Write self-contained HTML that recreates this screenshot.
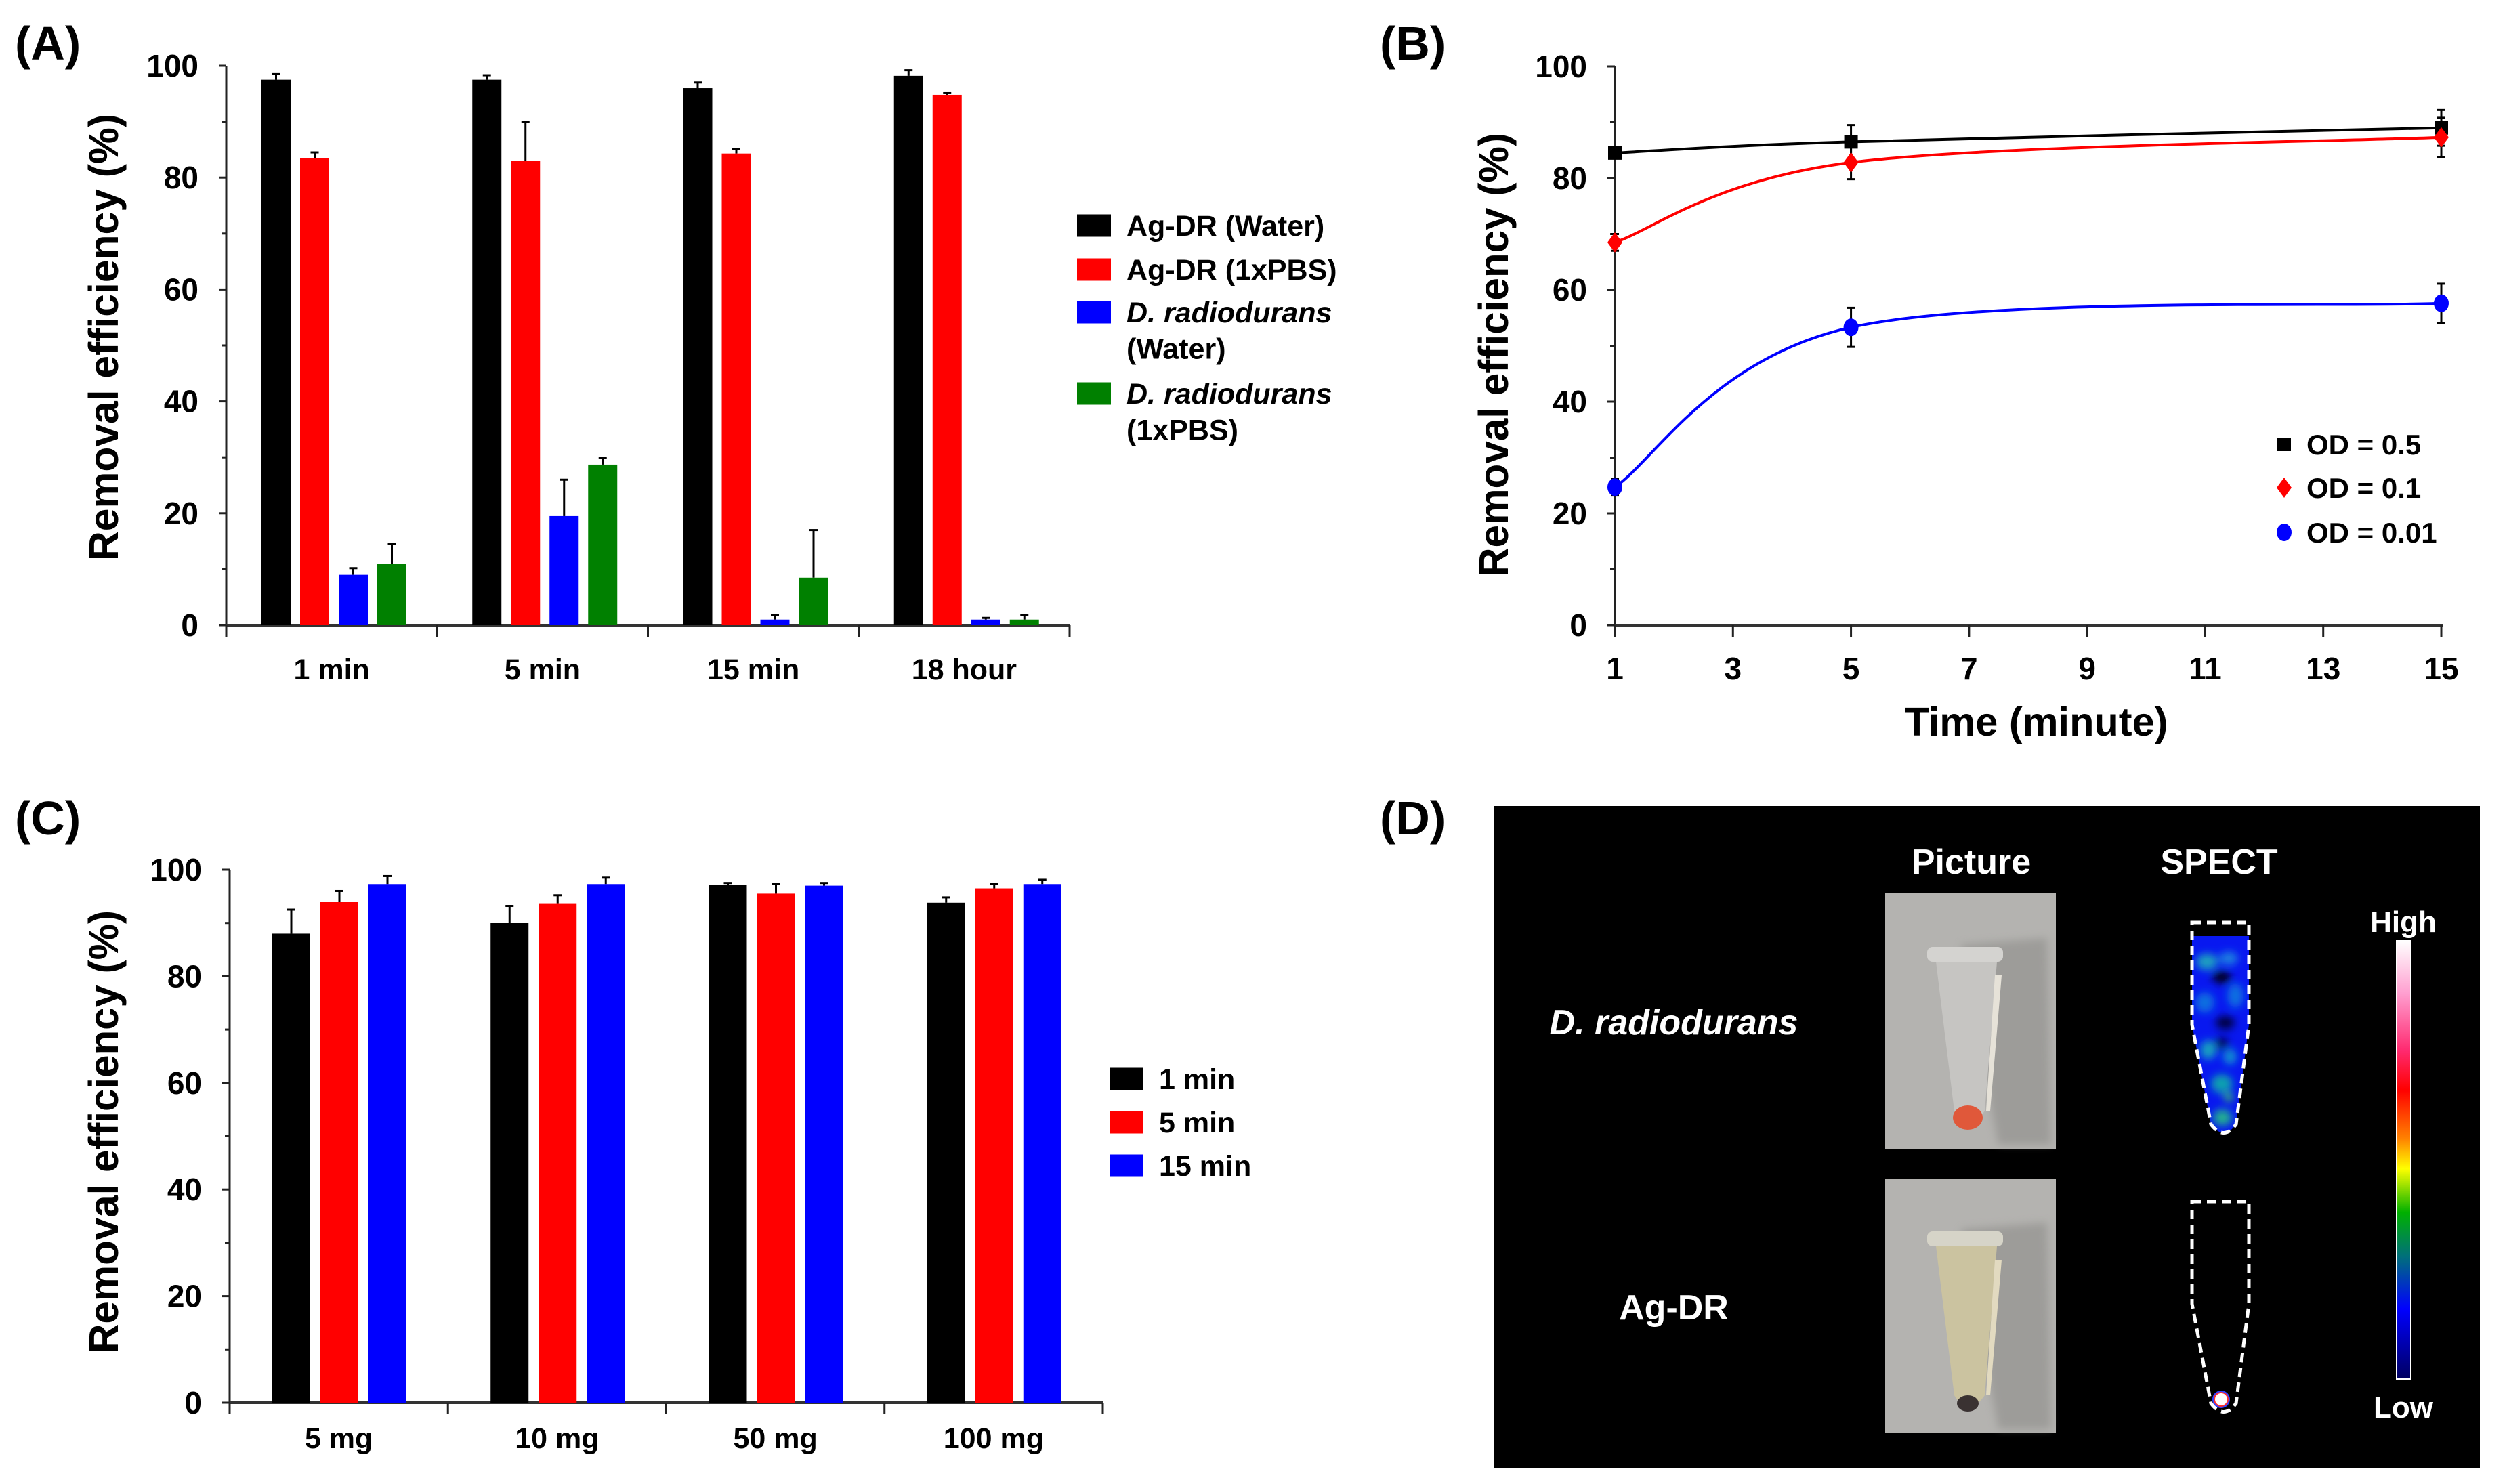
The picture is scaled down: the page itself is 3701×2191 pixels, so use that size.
<!DOCTYPE html>
<html><head><meta charset="utf-8"><style>
html,body{margin:0;padding:0;background:#fff;}
svg{display:block;}
text{font-family:"Liberation Sans",Arial,sans-serif;font-weight:bold;}
</style></head><body>
<svg id="fig" width="3701" height="2191" viewBox="0 0 3701 2191" xmlns="http://www.w3.org/2000/svg">
<defs>
<linearGradient id="cbar" x1="0" y1="0" x2="0" y2="1">
<stop offset="0" stop-color="#ffffff"/><stop offset="0.12" stop-color="#ff9fd0"/><stop offset="0.25" stop-color="#ff2a70"/>
<stop offset="0.34" stop-color="#ff0000"/><stop offset="0.45" stop-color="#ff8000"/><stop offset="0.52" stop-color="#ffff00"/>
<stop offset="0.62" stop-color="#00b000"/><stop offset="0.72" stop-color="#00707a"/><stop offset="0.84" stop-color="#0000ff"/>
<stop offset="1" stop-color="#000060"/></linearGradient>
<filter id="blur6"><feGaussianBlur stdDeviation="6"/></filter>
<filter id="blur3"><feGaussianBlur stdDeviation="3"/></filter>
<clipPath id="tubeClip"><path d="M3236,1362 L3320,1362 L3320,1513 L3301,1660 Q3283,1685 3264,1660 L3236,1513 Z"/></clipPath>
</defs>

<!-- Panel labels -->
<text x="22" y="88" font-size="70">(A)</text>
<text x="2037" y="88" font-size="70">(B)</text>
<text x="22" y="1232" font-size="70">(C)</text>
<text x="2037" y="1232" font-size="70">(D)</text>

<!-- Axis titles -->
<text transform="translate(174,498) rotate(-90)" text-anchor="middle" font-size="61" textLength="660" lengthAdjust="spacingAndGlyphs">Removal efficiency (%)</text>
<text transform="translate(2226,524) rotate(-90)" text-anchor="middle" font-size="61" textLength="656" lengthAdjust="spacingAndGlyphs">Removal efficiency (%)</text>
<text transform="translate(174,1671) rotate(-90)" text-anchor="middle" font-size="61" textLength="654" lengthAdjust="spacingAndGlyphs">Removal efficiency (%)</text>
<text x="3006" y="1086" text-anchor="middle" font-size="59" textLength="389" lengthAdjust="spacingAndGlyphs">Time (minute)</text>

<g id="gA"></g>
<g id="gB"></g>
<g id="gC"></g>

<!-- Panel D -->
<g>
<rect x="2206" y="1190" width="1455" height="978" fill="#000"/>
<text x="2910" y="1290" text-anchor="middle" font-size="52" fill="#fff">Picture</text>
<text x="3276" y="1290" text-anchor="middle" font-size="52" fill="#fff">SPECT</text>
<text x="2471" y="1527" text-anchor="middle" font-size="52" font-style="italic" fill="#fff">D. radiodurans</text>
<text x="2471" y="1948" text-anchor="middle" font-size="52" fill="#fff">Ag-DR</text>
<g>
<rect x="2783" y="1319" width="252" height="378" fill="#b4b3b0"/>
<path d="M2895,1395 L3022,1385 L3028,1690 L2950,1690 Z" fill="#8e8d8a" opacity="0.6" filter="url(#blur6)"/>
<rect x="2845" y="1398" width="112" height="22" rx="8" fill="#d4d3d0"/>
<path d="M2858,1420 L2948,1420 L2930,1640 Q2905,1675 2885,1640 Z" fill="#c6c5c2"/>
<path d="M2945,1440 L2955,1440 L2938,1640 L2932,1640 Z" fill="#e6e2d8"/>
<ellipse cx="2905" cy="1650" rx="22" ry="18" fill="#e0583a"/>
</g>
<g>
<rect x="2783" y="1740" width="252" height="376" fill="#b4b3b0"/>
<path d="M2895,1815 L3022,1805 L3028,2110 L2950,2110 Z" fill="#8e8d8a" opacity="0.6" filter="url(#blur6)"/>
<rect x="2845" y="1818" width="112" height="22" rx="8" fill="#d6d4c8"/>
<path d="M2858,1840 L2948,1840 L2930,2060 Q2905,2095 2885,2060 Z" fill="#cbc3a0"/>
<path d="M2945,1860 L2955,1860 L2938,2060 L2932,2060 Z" fill="#e2dac0"/>
<ellipse cx="2905" cy="2072" rx="16" ry="12" fill="#3a3232"/>
</g>
<g>
<g clip-path="url(#tubeClip)">
<rect x="3230" y="1380" width="95" height="310" fill="#0818f0"/>
<rect x="3230" y="1360" width="95" height="22" fill="#000"/>
<g filter="url(#blur6)">
<ellipse cx="3258" cy="1420" rx="16" ry="12" fill="#1aa0c0"/>
<ellipse cx="3290" cy="1415" rx="14" ry="10" fill="#1a80e0"/>
<ellipse cx="3280" cy="1443" rx="14" ry="9" fill="#000018"/>
<ellipse cx="3255" cy="1480" rx="14" ry="15" fill="#1070e0"/>
<ellipse cx="3300" cy="1470" rx="12" ry="18" fill="#1070e0"/>
<ellipse cx="3285" cy="1510" rx="14" ry="10" fill="#000040"/>
<ellipse cx="3260" cy="1550" rx="12" ry="14" fill="#18a0c0"/>
<ellipse cx="3292" cy="1560" rx="10" ry="12" fill="#1090d0"/>
<ellipse cx="3280" cy="1540" rx="10" ry="8" fill="#000050"/>
<ellipse cx="3280" cy="1600" rx="16" ry="14" fill="#10a0b0"/>
<ellipse cx="3290" cy="1620" rx="6" ry="6" fill="#40e040"/>
<ellipse cx="3281" cy="1650" rx="14" ry="12" fill="#20b090"/>
</g>
</g>
<path d="M3236,1362 L3320,1362 L3320,1513 L3301,1660 Q3283,1685 3264,1660 L3236,1513 Z" fill="none" stroke="#fff" stroke-width="5" stroke-dasharray="14,8"/>
</g>
<g>
<path d="M3236,1774 L3320,1774 L3320,1925 L3301,2072 Q3283,2097 3264,2072 L3236,1925 Z" fill="none" stroke="#fff" stroke-width="5" stroke-dasharray="14,8"/>
<circle cx="3279" cy="2066" r="13" fill="#3040ff"/>
<circle cx="3279" cy="2066" r="11" fill="#ff3030"/>
<circle cx="3279" cy="2066" r="9" fill="#fff"/>
</g>
<rect x="3538" y="1389" width="21" height="647" fill="url(#cbar)" stroke="#fff" stroke-width="2"/>
<text x="3548" y="1376" text-anchor="middle" font-size="44" fill="#fff">High</text>
<text x="3548" y="2093" text-anchor="middle" font-size="44" fill="#fff">Low</text>
</g>

<script>
// ---------- Data: panel A ----------
const aCategories = ['1 min', '5 min', '15 min', '18 hour'];
const aWaterAgDR = [97.5, 97.5, 96, 98.2];
const aWaterAgDRErr = [1, 0.8, 1, 1];
const aPbsAgDR = [83.5, 83, 84.3, 94.8];
const aPbsAgDRErr = [1, 7, 0.8, 0.3];
const aWaterDR = [9, 19.5, 1, 1];
const aWaterDRErr = [1.2, 6.5, 0.8, 0.3];
const aPbsDR = [11, 28.7, 8.5, 1];
const aPbsDRErr = [3.5, 1.2, 8.5, 0.8];
const aYTicks = [0, 20, 40, 60, 80, 100];
// ---------- Data: panel B ----------
const bTimes = [1, 5, 15];
const bOD05 = [84.5, 86.5, 89];
const bOD05Err = [0.8, 3, 3.2];
const bOD01 = [68.5, 82.8, 87.3];
const bOD01Err = [1.5, 3, 3.5];
const bOD001 = [24.7, 53.3, 57.6];
const bOD001Err = [1.5, 3.5, 3.5];
const bXTicks = [1, 3, 5, 7, 9, 11, 13, 15];
const bYTicks = [0, 20, 40, 60, 80, 100];
// ---------- Data: panel C ----------
const cCategories = ['5 mg', '10 mg', '50 mg', '100 mg'];
const c1min = [88, 90, 97.2, 93.8];
const c1minErr = [4.5, 3.2, 0.3, 1];
const c5min = [94, 93.7, 95.5, 96.5];
const c5minErr = [2, 1.5, 1.8, 0.8];
const c15min = [97.3, 97.3, 97, 97.3];
const c15minErr = [1.5, 1.2, 0.5, 0.8];
const cYTicks = [0, 20, 40, 60, 80, 100];

const NS = 'http://www.w3.org/2000/svg';
function mk(parent, tag, attrs, txt) {
  const el = document.createElementNS(NS, tag);
  for (const k in attrs) el.setAttribute(k, attrs[k]);
  if (txt !== undefined) el.textContent = txt;
  parent.appendChild(el);
  return el;
}

function yAxis(g, x, yf, ticks, name) {
  const ax = mk(g, 'line', {x1: x, y1: yf(100), x2: x, y2: yf(0), stroke: '#222', 'stroke-width': 3});
  
  
  for (let v = 0; v <= 100; v += 10) {
    const major = v % 20 === 0;
    mk(g, 'line', {x1: x - (major ? 11 : 7), y1: yf(v), x2: x, y2: yf(v), stroke: '#222', 'stroke-width': 3});
  }
  ticks.forEach(t => {
    const tl = mk(g, 'text', {x: x - 41, y: yf(t) + 16, 'text-anchor': 'end', 'font-size': 46}, String(t));
    
    
  });
}

function barChart(g, opt) {
  const {x0, x1, yf, cats, series, name, off, step, bw, labelY, ticks} = opt;
  yAxis(g, x0, yf, ticks, name);
  const gw = (x1 - x0) / cats.length;
  const xa = mk(g, 'line', {x1: x0, y1: yf(0), x2: x1, y2: yf(0), stroke: '#333', 'stroke-width': 4});
  
  
  for (let i = 0; i <= cats.length; i++) {
    mk(g, 'line', {x1: x0 + gw * i, y1: yf(0), x2: x0 + gw * i, y2: yf(0) + 17, stroke: '#222', 'stroke-width': 3});
  }
  cats.forEach((c, gi) => {
    const lab = mk(g, 'text', {x: x0 + gw * (gi + 0.5), y: labelY, 'text-anchor': 'middle', 'font-size': 43}, c);
    
    
    series.forEach((s, si) => {
      const bx = x0 + gw * gi + off + si * step;
      const v = s.vals[gi], e = s.err[gi];
      const cx = bx + bw / 2;
      mk(g, 'line', {x1: cx, y1: yf(v), x2: cx, y2: yf(v + e), stroke: '#000', 'stroke-width': 3});
      mk(g, 'line', {x1: cx - 6, y1: yf(v + e), x2: cx + 6, y2: yf(v + e), stroke: '#000', 'stroke-width': 3});
      const r = mk(g, 'rect', {x: bx, y: yf(v), width: bw, height: yf(0) - yf(v), fill: s.color});
      
      
    });
  });
}

function legendRect(g, x, y, w, h, color, lines, italicFirst, name) {
  const r = mk(g, 'rect', {x: x, y: y - h / 2, width: w, height: h, fill: color});
  
  
  lines.forEach((ln, i) => {
    const attrs = {x: x + w + 23, y: y + 15 + i * 118 / 2.2, 'font-size': 43};
    if (i === 0 && italicFirst) attrs['font-style'] = 'italic';
    const t = mk(g, 'text', attrs, ln);
    
    
  });
}

// ---------- Panel A ----------
const gA = document.getElementById('gA');
const yA = v => 923 - v * 8.26;
barChart(gA, {x0: 334, x1: 1579, yf: yA, cats: aCategories, name: 'chart-a', off: 52, step: 57, bw: 43, labelY: 1003, ticks: aYTicks,
  series: [
    {key: 'agdr-water', vals: aWaterAgDR, err: aWaterAgDRErr, color: '#000000'},
    {key: 'agdr-pbs', vals: aPbsAgDR, err: aPbsAgDRErr, color: '#ff0000'},
    {key: 'dr-water', vals: aWaterDR, err: aWaterDRErr, color: '#0000ff'},
    {key: 'dr-pbs', vals: aPbsDR, err: aPbsDRErr, color: '#008000'}]});
legendRect(gA, 1590, 333, 50, 33, '#000', ['Ag-DR (Water)'], false, 'legend-a-agdr-water');
legendRect(gA, 1590, 398, 50, 33, '#ff0000', ['Ag-DR (1xPBS)'], false, 'legend-a-agdr-pbs');
legendRect(gA, 1590, 461, 50, 33, '#0000ff', ['D. radiodurans', '(Water)'], true, 'legend-a-dr-water');
legendRect(gA, 1590, 581, 50, 33, '#008000', ['D. radiodurans', '(1xPBS)'], true, 'legend-a-dr-pbs');

// ---------- Panel C ----------
const gC = document.getElementById('gC');
const yC = v => 2071 - v * 7.87;
barChart(gC, {x0: 339, x1: 1628, yf: yC, cats: cCategories, name: 'chart-c', off: 63, step: 71, bw: 56, labelY: 2138, ticks: cYTicks,
  series: [
    {key: '1min', vals: c1min, err: c1minErr, color: '#000000'},
    {key: '5min', vals: c5min, err: c5minErr, color: '#ff0000'},
    {key: '15min', vals: c15min, err: c15minErr, color: '#0000ff'}]});
legendRect(gC, 1638, 1593, 50, 33, '#000', ['1 min'], false, 'legend-c-1min');
legendRect(gC, 1638, 1657, 50, 33, '#ff0000', ['5 min'], false, 'legend-c-5min');
legendRect(gC, 1638, 1721, 50, 33, '#0000ff', ['15 min'], false, 'legend-c-15min');

// ---------- Panel B ----------
const gB = document.getElementById('gB');
const xB = t => 2384 + (t - 1) * (3604 - 2384) / 14;
const yB = v => 923 - v * 8.25;
yAxis(gB, 2384, yB, bYTicks, 'chart-b');
const xaB = mk(gB, 'line', {x1: 2384, y1: yB(0), x2: 3606, y2: yB(0), stroke: '#333', 'stroke-width': 4});


bXTicks.forEach(t => {
  mk(gB, 'line', {x1: xB(t), y1: yB(0), x2: xB(t), y2: yB(0) + 17, stroke: '#222', 'stroke-width': 3});
  const tl = mk(gB, 'text', {x: xB(t), y: 1003, 'text-anchor': 'middle', 'font-size': 46}, String(t));
  
  
});
function smoothPath(ts, vs) {
  const p = ts.map((t, i) => [xB(t), yB(vs[i])]);
  let d = 'M' + p[0][0] + ',' + p[0][1];
  for (let i = 0; i < p.length - 1; i++) {
    const p0 = p[Math.max(0, i - 1)], p1 = p[i], p2 = p[i + 1], p3 = p[Math.min(p.length - 1, i + 2)];
    const c1 = [p1[0] + (p2[0] - p0[0]) / 6, p1[1] + (p2[1] - p0[1]) / 6];
    const c2 = [p2[0] - (p3[0] - p1[0]) / 6, p2[1] - (p3[1] - p1[1]) / 6];
    d += ' C' + c1 + ' ' + c2 + ' ' + p2;
  }
  return d;
}
const bSeries = [
  {key: 'od-0.5', vals: bOD05, err: bOD05Err, color: '#000000', marker: 'square', label: 'OD = 0.5'},
  {key: 'od-0.1', vals: bOD01, err: bOD01Err, color: '#ff0000', marker: 'diamond', label: 'OD = 0.1'},
  {key: 'od-0.01', vals: bOD001, err: bOD001Err, color: '#0000ff', marker: 'circle', label: 'OD = 0.01'}];
function marker(g, type, cx, cy, color, s) {
  if (type === 'square') return mk(g, 'rect', {x: cx - s / 2, y: cy - s / 2, width: s, height: s, fill: color});
  if (type === 'diamond') return mk(g, 'path', {d: `M${cx},${cy - s * 0.75} L${cx + s * 0.55},${cy} L${cx},${cy + s * 0.75} L${cx - s * 0.55},${cy} Z`, fill: color});
  return mk(g, 'ellipse', {cx: cx, cy: cy, rx: s * 0.55, ry: s * 0.65, fill: color});
}
bSeries.forEach((s, si) => {
  const line = mk(gB, 'path', {d: smoothPath(bTimes, s.vals), fill: 'none', stroke: s.color, 'stroke-width': 4});
  
  
  bTimes.forEach((t, i) => {
    const v = s.vals[i], e = s.err[i], x = xB(t);
    mk(gB, 'line', {x1: x, y1: yB(v - e), x2: x, y2: yB(v + e), stroke: '#000', 'stroke-width': 3});
    mk(gB, 'line', {x1: x - 6, y1: yB(v - e), x2: x + 6, y2: yB(v - e), stroke: '#000', 'stroke-width': 3});
    mk(gB, 'line', {x1: x - 6, y1: yB(v + e), x2: x + 6, y2: yB(v + e), stroke: '#000', 'stroke-width': 3});
    const m = marker(gB, s.marker, x, yB(v), s.color, 20);
    
    
  });
  const ly = [656, 720, 786][si];
  const lm = marker(gB, s.marker, 3372, ly, s.color, 20);
  
  
  const lt = mk(gB, 'text', {x: 3405, y: ly + 15, 'font-size': 42}, s.label);
  
  
});
</script>
</svg>
</body></html>
